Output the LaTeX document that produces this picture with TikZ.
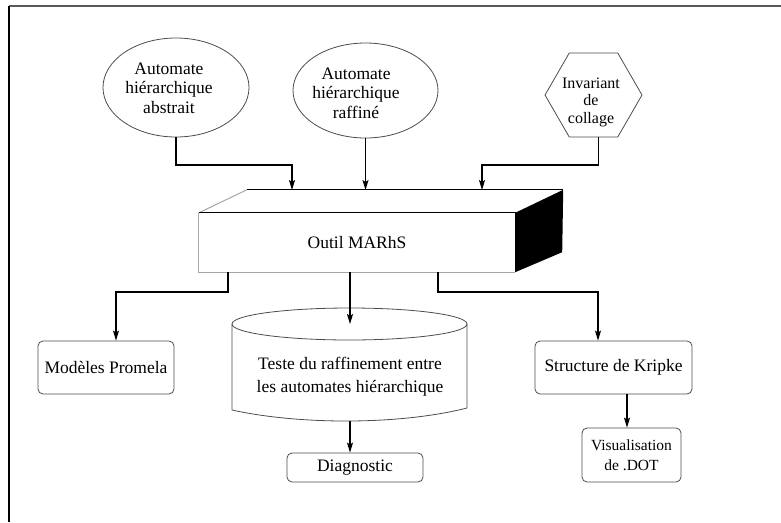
\documentclass[tikz,border=0pt]{standalone}
\usepackage{fontspec}
\setmainfont{Liberation Serif}
\usetikzlibrary{arrows.meta,shapes.geometric}
\begin{document}
\begin{tikzpicture}[x=1pt,y=-1pt,
  conn/.style={line width=1.1pt, draw=black},
  arr/.style={conn,-{Stealth[length=10pt,width=6pt,inset=2pt]}},
  inputshape/.style={draw=black!70, line width=0.8pt, inner sep=0pt},
  roundbox/.style={draw=black!70, line width=0.8pt, rounded corners=5pt,
    inner sep=0pt, align=center, font=\fontsize{17.5}{20}\selectfont},
  lbl/.style={align=center, inner sep=0pt, font=\fontsize{17.5}{19.5}\selectfont},
  edgedark/.style={line width=1pt, draw=black},
  edgelight/.style={line width=1pt, draw=black!35}]
\useasboundingbox (0,0) rectangle (781,522);

% frame
\draw[line width=1.5pt, black!65] (9,6) -- (781,6);
\draw[line width=1.5pt, black] (9,6) -- (9,522);

% inputs
\node[inputshape, ellipse, minimum width=146pt, minimum height=99pt] (abs) at (176,87.5) {};
\node[lbl] (abstxt) at (169,88) {Automate\\hiérarchique\\abstrait};
\node[inputshape, ellipse, minimum width=145pt, minimum height=95pt] (raf) at (365.5,90.5) {};
\node[lbl] (raftxt) at (356,93) {Automate\\hiérarchique\\raffiné};
\node[inputshape, regular polygon, regular polygon sides=6, minimum size=97pt] (inv) at (593.5,95) {};
\node[lbl, font=\fontsize{16}{17.5}\selectfont] (invtxt) at (591,102) {Invariant\\de\\collage};

% the MARhS tool block
\node[lbl, minimum width=316pt, minimum height=59pt] (outil) at (357,242.5) {Outil MARhS};
\fill[black] (outil.north east) -- ([shift={(48,-23)}]outil.north east)
  -- ([shift={(47,-20)}]outil.south east) -- (outil.south east) -- cycle;
\draw[edgelight] (outil.north west) -- ([shift={(48,-23)}]outil.north west);
\draw[edgedark] ([shift={(48,-23)}]outil.north west) -- ([shift={(48,-23)}]outil.north east);
\draw[edgelight] (outil.north west) -- (outil.south west) -- (outil.south east);
\draw[edgedark] (outil.north west) -- (outil.north east) -- (outil.south east);

\coordinate (topA) at (292,190);
\coordinate (topB) at (365.5,190);
\coordinate (topC) at (482,190);

\draw[arr] (abs.south) -- (abs.south |- 0,165) -| (topA);
\draw[arr] (raf.south) -- (topB);
\draw[arr] ([xshift=5pt]inv.south) -- ([xshift=5pt]inv.south |- 0,165) -| (topC);

% outputs
\node[roundbox, minimum width=136pt, minimum height=53pt] (promela) at (106,367.5) {Modèles Promela};
\node[roundbox, minimum width=157pt, minimum height=53pt] (kripke) at (613.5,367.5) {Structure de Kripke};
\node[roundbox, minimum width=136pt, minimum height=29pt] (diag) at (355,467.5) {Diagnostic};
\node[roundbox, minimum width=99pt, minimum height=54pt,
  font=\fontsize{15.5}{20}\selectfont] (visu) at (631.5,455) {Visualisation\\de .DOT};

% refinement test store
\draw[draw=black!70, line width=0.8pt] (232,324) -- (232,410)
  .. controls (300,425) and (400,425) .. (467,408) -- (467,324);
\draw[draw=black!70, line width=0.8pt] (349.5,324) ellipse [x radius=117.5, y radius=16];
\node[lbl, font=\fontsize{17.5}{23}\selectfont] (test) at (350,377)
  {Teste du raffinement entre\\les automates hiérarchique};
\coordinate (cyltop) at (350,324);
\coordinate (cylbot) at (350,421);

\draw[arr] (outil.south -| 228,0) |- ([xshift=10pt]promela.north |- 0,292) -- ([xshift=10pt]promela.north);
\draw[arr] (outil.south -| 350,0) -- (cyltop);
\draw[arr] (outil.south -| 438,0) |- ([xshift=-15.5pt]kripke.north |- 0,292) -- ([xshift=-15.5pt]kripke.north);
\draw[arr] (cylbot) -- (diag.north -| cylbot);
\draw[arr] ([xshift=13.5pt]kripke.south) -- ([xshift=13.5pt]kripke.south |- visu.north);
\end{tikzpicture}
\end{document}
